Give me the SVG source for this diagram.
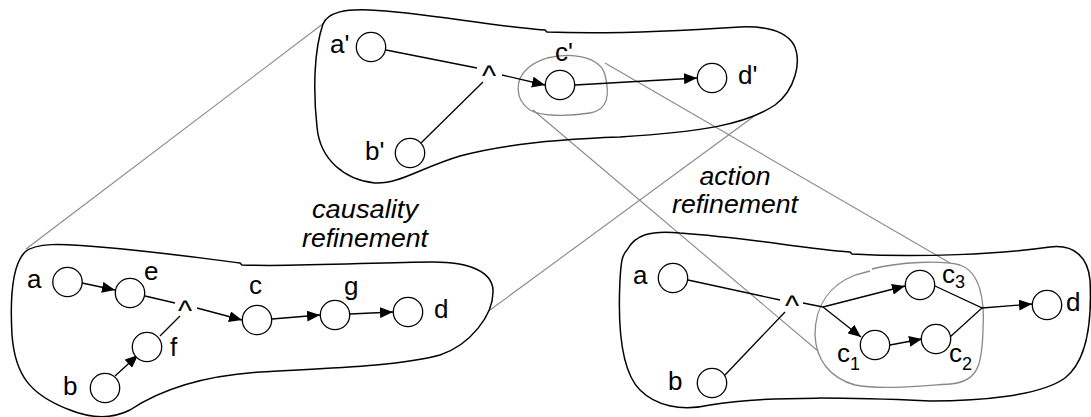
<svg xmlns="http://www.w3.org/2000/svg" width="1091" height="417" viewBox="0 0 1091 417">
<defs>
<marker id="arr" viewBox="0 0 13 11" refX="13" refY="5.5" markerWidth="13" markerHeight="11" markerUnits="userSpaceOnUse" orient="auto">
<path d="M0,0 L13,5.5 L0,11 z" fill="#000"/>
</marker>
<style>
.blob{fill:none;stroke:#000;stroke-width:1.5}
.enc{fill:none;stroke:#888;stroke-width:1.3}
.proj{stroke:#888;stroke-width:1.1;fill:none}
.n{fill:#fff;stroke:#000;stroke-width:1.3}
.e{stroke:#000;stroke-width:1.3;fill:none}
.a{stroke:#000;stroke-width:1.3;fill:none;marker-end:url(#arr)}
text{font-family:"Liberation Sans",Arial,sans-serif;font-size:26px;fill:#000}
.it{font-style:italic;font-size:25px}
.sub{font-size:18px}
.and{font-size:30px}
</style>
</defs>
<rect width="1091" height="417" fill="#fff"/>

<g id="projections">
<line class="proj" x1="324" y1="23" x2="26" y2="249"/>
<line class="proj" x1="753" y1="117" x2="490" y2="310"/>
<line class="proj" x1="605" y1="63" x2="950" y2="263"/>
<line class="proj" x1="533" y1="110" x2="818" y2="351"/>
</g>

<g id="blobs">
<path id="blob-top" class="blob" d="M323,24 C328,12 345,9 370,10 C420,12 490,26 545,30 L547,32 C600,34 680,31 740,27 C765,26 785,30 794,45 C802,62 795,90 775,105 C745,125 700,132 620,137 C560,139 500,145 460,156 C420,168 400,184 375,183 C345,180 320,160 317,127 C313,90 314,50 323,24 Z"/>
<path id="blob-left" class="blob" d="M25,252 C35,243 60,243 100,247 C160,252 200,258 240,263 L242,265 C300,267 380,262 433,262 C470,262 492,272 493,290 C494,315 470,345 440,355 C400,366 330,368 260,372 C200,376 160,390 130,410 C110,420 90,418 70,410 C30,395 15,375 12,335 C10,300 12,265 25,252 Z"/>
<path id="blob-right" class="blob" d="M627,250 C635,235 650,230 680,233 C750,238 800,248 850,252 L852,254 C920,258 1000,254 1050,247 C1075,244 1088,258 1090,280 C1092,320 1088,360 1065,378 C1040,396 980,401 930,401 C860,398 770,395 710,405 C680,412 655,405 640,390 C620,370 618,320 620,280 C621,262 622,255 627,250 Z"/>
<path id="enc-top" class="enc" d="M547,58 C570,52 600,56 605,75 C610,95 608,110 590,113 C565,117 540,116 530,110 C515,100 514,80 528,68 C535,62 542,60 547,58 Z"/>
<path id="enc-right" class="enc" d="M872,269 C900,262 940,260 960,265 C980,272 985,300 983,330 C982,365 978,382 950,384 C920,386 880,390 855,385 C830,378 816,360 815,335 C815,305 830,285 855,275 L870,271"/>
</g>

<g id="connectors">
<line class="e" x1="386" y1="50" x2="477" y2="68"/>
<line class="e" x1="421" y1="143" x2="483" y2="82"/>
<line class="a" x1="502" y1="75" x2="545" y2="85"/>
<line class="a" x1="575" y1="85" x2="697" y2="78"/>
<line class="a" x1="82" y1="283" x2="115" y2="290"/>
<line class="e" x1="145" y1="296" x2="175" y2="303"/>
<line class="a" x1="115" y1="376" x2="138" y2="355"/>
<line class="e" x1="160" y1="336" x2="180" y2="316"/>
<line class="a" x1="197" y1="308" x2="242" y2="320"/>
<line class="a" x1="272" y1="319" x2="320" y2="315"/>
<line class="a" x1="350" y1="314" x2="393" y2="312"/>
<line class="e" x1="688" y1="280" x2="780" y2="300"/>
<line class="e" x1="725" y1="375" x2="785" y2="312"/>
<line class="e" x1="803" y1="303" x2="823" y2="307"/>
<line class="a" x1="823" y1="307" x2="905" y2="286"/>
<line class="a" x1="823" y1="307" x2="861" y2="337"/>
<line class="a" x1="890" y1="345" x2="922" y2="339"/>
<polyline class="e" points="935,286 982,308 950,337"/>
<line class="a" x1="982" y1="308" x2="1032" y2="304"/>
</g>

<g id="node-a-prime"><circle class="n" cx="371" cy="47" r="14.7"/><text x="330" y="53">a'</text></g>
<g id="node-b-prime"><circle class="n" cx="410" cy="153" r="14.7"/><text x="365" y="160">b'</text></g>
<g id="node-c-prime"><circle class="n" cx="560" cy="85" r="14.7"/><text x="555" y="61">c'</text></g>
<g id="node-d-prime"><circle class="n" cx="712" cy="78" r="14.7"/><text x="738" y="84">d'</text></g>
<g id="and-top"><text class="and" x="482" y="86">^</text></g>

<g id="node-a1"><circle class="n" cx="67.5" cy="282" r="14.7"/><text x="27" y="288">a</text></g>
<g id="node-e"><circle class="n" cx="130" cy="293" r="14.7"/><text x="144" y="280">e</text></g>
<g id="node-f"><circle class="n" cx="147" cy="347" r="14.7"/><text x="170" y="356">f</text></g>
<g id="node-b1"><circle class="n" cx="105" cy="388" r="14.7"/><text x="63" y="395">b</text></g>
<g id="node-c"><circle class="n" cx="257" cy="320" r="14.7"/><text x="249" y="294">c</text></g>
<g id="node-g"><circle class="n" cx="335" cy="315" r="14.7"/><text x="344" y="295">g</text></g>
<g id="node-d1"><circle class="n" cx="408" cy="312" r="14.7"/><text x="434" y="318">d</text></g>
<g id="and-left"><text class="and" x="178" y="321">^</text></g>

<g id="node-a2"><circle class="n" cx="673" cy="278" r="14.7"/><text x="633" y="284">a</text></g>
<g id="node-b2"><circle class="n" cx="712" cy="383" r="14.7"/><text x="668" y="390">b</text></g>
<g id="node-c3"><circle class="n" cx="920" cy="285" r="14.7"/><text x="942" y="283">c<tspan class="sub" dy="5">3</tspan></text></g>
<g id="node-c1"><circle class="n" cx="875" cy="345" r="14.7"/><text x="837" y="362">c<tspan class="sub" dy="8">1</tspan></text></g>
<g id="node-c2"><circle class="n" cx="936" cy="339" r="14.7"/><text x="949" y="362">c<tspan class="sub" dy="8">2</tspan></text></g>
<g id="node-d2"><circle class="n" cx="1047" cy="305" r="14.7"/><text x="1066" y="311">d</text></g>
<g id="and-right"><text class="and" x="785" y="316">^</text></g>

<g id="labels">
<text class="it" x="365" y="218" text-anchor="middle" textLength="106" lengthAdjust="spacingAndGlyphs">causality</text>
<text class="it" x="365" y="247" text-anchor="middle" textLength="126" lengthAdjust="spacingAndGlyphs">refinement</text>
<text class="it" x="735" y="185" text-anchor="middle" textLength="71" lengthAdjust="spacingAndGlyphs">action</text>
<text class="it" x="735" y="213" text-anchor="middle" textLength="126" lengthAdjust="spacingAndGlyphs">refinement</text>
</g>
</svg>
